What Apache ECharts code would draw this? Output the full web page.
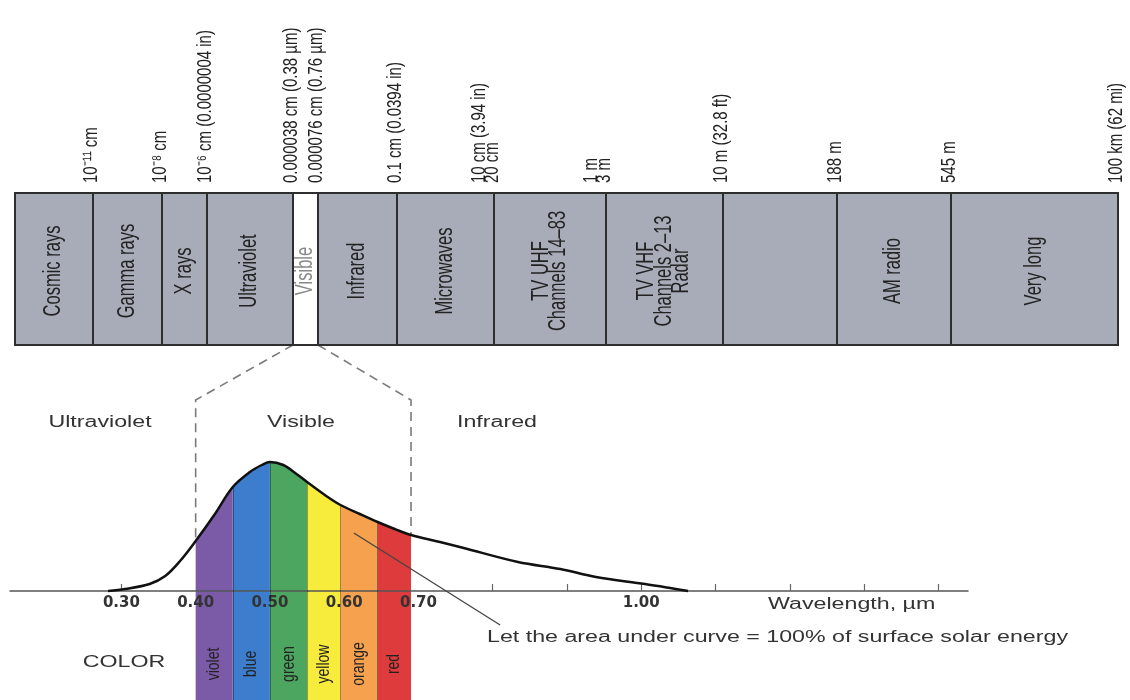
<!DOCTYPE html>
<html>
<head>
<meta charset="utf-8">
<script src="https://cdn.jsdelivr.net/npm/echarts@6/dist/echarts.min.js"></script>
<style>
html,body{margin:0;padding:0;background:#fff;}
#c{width:1130px;height:700px;}
</style>
</head>
<body>
<div id="c"></div>
<script>
// ---------- DATA ----------
const spectrumBands = ['Cosmic rays','Gamma rays','X rays','Ultraviolet','Visible','Infrared','Microwaves',
  'TV UHF\nChannels 14–83','TV VHF\nChannels 2–13\nRadar','','AM radio','Very long'];
// schematic widths of each spectrum segment (diagram units)
const spectrumWidths = [78,69,45,86,25,79,97,112,117,114,114,167];
// labels written above each segment boundary (index 0 = left edge)
const boundaryLabels = ['', '10⁻¹¹ cm', '10⁻⁸ cm', '10⁻⁶ cm (0.0000004 in)', '0.000038 cm (0.38 µm)',
  '0.000076 cm (0.76 µm)', '0.1 cm (0.0394 in)', '10 cm (3.94 in)\n20 cm', '1 m\n3 m',
  '10 m (32.8 ft)', '188 m', '545 m', '100 km (62 mi)'];

// solar energy curve (wavelength in µm, relative energy)
const curveWavelength = [0.282,0.305,0.338,0.359,0.379,0.40,0.425,0.45,0.473,0.489,0.50,0.518,0.534,0.55,
  0.574,0.595,0.621,0.645,0.668,0.69,0.729,0.761,0.834,0.891,0.939,1.005,1.039,1.063];
const curveEnergy = [0,2,7,15,30,50,76,104,119,126,129,126,118,109,96,86,77,69,62,56,49,43,29,22,14,7,3,0];

const colorNames = ['violet','blue','green','yellow','orange','red'];
const colorEdges = [0.40,0.45,0.50,0.55,0.595,0.645,0.69];
const colorFills = ['#7b5ba8','#3d7dce','#4ca65f','#f7ec3b','#f6a14d','#de3b3c'];

const tickLabelValues = [0.30,0.40,0.50,0.60,0.70,1.00];
const tickMarkValues = [0.3,0.8,0.9,1.0,1.1,1.2,1.3,1.4];
const leaderLine = [[0.613,58],[0.81,-34]];

// ---------- BUILD ----------
const starts = [];
let acc = 0;
spectrumWidths.forEach(w => { starts.push(acc); acc += w; });
const total = acc;
const boundaryPos = starts.concat([total]);

const curvePoints = curveWavelength.map((w, i) => [w, curveEnergy[i]]);
const energyAt = w => curveEnergy[curveWavelength.indexOf(w)];

const Y_MIN = -109, Y_MAX = 140;
const GRID2_H = 249;
const COLOR_LABEL_LEVEL = -73;
const FONT = '"Liberation Sans", Arial, sans-serif';
const STRETCH = 1.45;

const chart = echarts.init(document.getElementById('c'));

const bandSeries = colorNames.map((name, i) => ({
  type: 'line', name: name, xAxisIndex: 1, yAxisIndex: 1,
  data: curvePoints.filter(p => p[0] >= colorEdges[i] && p[0] <= colorEdges[i + 1]),
  smooth: 0.35, symbol: 'none', silent: true, z: 2,
  lineStyle: { width: 0 },
  areaStyle: { color: colorFills[i], opacity: 1, origin: 'start' }
}));

const dividerLines = colorEdges.slice(1, -1).map(e => [
  { coord: [e, energyAt(e)], lineStyle: { color: 'rgba(0,0,0,0.35)', width: 1, type: 'solid' } },
  { coord: [e, Y_MIN] }
]);

const option = {
  backgroundColor: '#fff',
  animation: false,
  textStyle: { fontFamily: FONT },
  grid: [
    { left: 15, top: 193, width: total, height: 152, outerBoundsMode: 'none', containLabel: false },
    { left: 10, width: 958, top: 451, height: GRID2_H, outerBoundsMode: 'none', containLabel: false }
  ],
  xAxis: [
    { gridIndex: 0, type: 'value', min: 0, max: total, show: false },
    { gridIndex: 1, type: 'value', min: 0.15, max: 1.44, z: 3, position: 'bottom',
      offset: Y_MIN * GRID2_H / (Y_MAX - Y_MIN),
      splitLine: { show: false },
      axisLine: { onZero: false, lineStyle: { color: '#555', width: 1.5 } },
      axisTick: { inside: true, length: 7, customValues: tickMarkValues, lineStyle: { color: '#666', width: 1.2 } },
      axisLabel: { customValues: tickLabelValues, formatter: v => v.toFixed(2), margin: 5,
        fontFamily: '"DejaVu Sans", sans-serif', fontWeight: 'bold', fontSize: 15, color: '#333' }
    }
  ],
  yAxis: [
    { gridIndex: 0, type: 'value', min: 0, max: 1, show: false },
    { gridIndex: 1, type: 'value', min: Y_MIN, max: Y_MAX, show: false }
  ],
  series: [
    { // spectrum segments
      type: 'custom', xAxisIndex: 0, yAxisIndex: 0, silent: true, z: 2,
      data: spectrumBands.map((n, i) => [starts[i], starts[i] + spectrumWidths[i]]),
      renderItem: (params, api) => {
        const p0 = api.coord([api.value(0), 1]);
        const p1 = api.coord([api.value(1), 0]);
        const vis = spectrumBands[params.dataIndex] === 'Visible';
        return { type: 'rect', shape: { x: p0[0], y: p0[1], width: p1[0] - p0[0], height: p1[1] - p0[1] },
          style: { fill: vis ? '#ffffff' : '#a8acb8', stroke: '#2e2e2e', lineWidth: 2 } };
      }
    },
    ...bandSeries,
    { // solar curve
      type: 'line', name: 'Solar energy', xAxisIndex: 1, yAxisIndex: 1, data: curvePoints,
      smooth: 0.35, symbol: 'none', silent: true, z: 5,
      lineStyle: { color: '#111', width: 2.5 },
      markLine: {
        silent: true, symbol: 'none', label: { show: false }, animation: false,
        data: dividerLines.concat([[
          { coord: leaderLine[0], lineStyle: { color: '#444', width: 1.3, type: 'solid' } },
          { coord: leaderLine[1] }
        ]])
      }
    }
  ]
};
chart.setOption(option);

// ---------- texts and connectors positioned from the axes ----------
const px0 = v => chart.convertToPixel({ gridIndex: 0 }, v);
const px1 = v => chart.convertToPixel({ gridIndex: 1 }, v);

function rotText(p, dx, dy, text, size, lh, stretch, align, vAlign, fill) {
  return { type: 'text', x: p[0] + dx, y: p[1] + dy, rotation: Math.PI / 2, scaleX: 1, scaleY: stretch,
    z: 20, silent: true,
    style: { text: text, align: align, verticalAlign: vAlign, fontSize: size, fontFamily: FONT,
      lineHeight: lh, fill: fill } };
}
function label(text, x, y, align, size) {
  return { type: 'text', x: x, y: y, scaleX: STRETCH, z: 20, silent: true,
    style: { text: text, align: align, verticalAlign: 'middle', fontSize: size || 16, fontFamily: FONT, fill: '#333' } };
}

const graphics = [];
spectrumBands.forEach((name, i) => {
  if (!name) return;
  const p = px0([starts[i] + spectrumWidths[i] / 2, 0.5]);
  graphics.push(rotText(p, 0, 2, name, 16.5, 12.5, 1.4, 'center', 'middle',
    name === 'Visible' ? '#8a8a8a' : '#222'));
});
boundaryLabels.forEach((t, i) => {
  if (!t) return;
  const p = px0([boundaryPos[i], 1]);
  graphics.push(rotText(p, 5.5, -10, t, 15, 10, 1.35, 'left', 'bottom', '#222'));
});
colorNames.forEach((n, i) => {
  const p = px1([(colorEdges[i] + colorEdges[i + 1]) / 2, COLOR_LABEL_LEVEL]);
  graphics.push(rotText(p, 0, 0, n, 14, 14, 1.3, 'center', 'middle', '#222'));
});

const visIdx = spectrumBands.indexOf('Visible');
const tl = px0([starts[visIdx], 0]);
const tr = px0([starts[visIdx] + spectrumWidths[visIdx], 0]);
const e0 = colorEdges[0], e1 = colorEdges[colorEdges.length - 1];
const bl = px1([e0, energyAt(e0)]);
const br = px1([e1, energyAt(e1)]);
const kneeY = tl[1] + 55;
const dashStyle = { stroke: '#7a7a7a', lineWidth: 1.6, lineDash: [9, 6], fill: null };
graphics.push(
  { type: 'polyline', silent: true, z: 1, shape: { points: [tl, [bl[0], kneeY], bl] }, style: dashStyle },
  { type: 'polyline', silent: true, z: 1, shape: { points: [tr, [br[0], kneeY], br] }, style: dashStyle },
  label('Ultraviolet', 100, 423, 'center'),
  label('Visible', 301, 423, 'center'),
  label('Infrared', 497, 423, 'center'),
  label('Wavelength, µm', 768, 605, 'left'),
  label('COLOR', 124, 663, 'center'),
  label('Let the area under curve = 100% of surface solar energy', 487, 638, 'left')
);
chart.setOption({ graphic: graphics });
</script>
</body>
</html>
